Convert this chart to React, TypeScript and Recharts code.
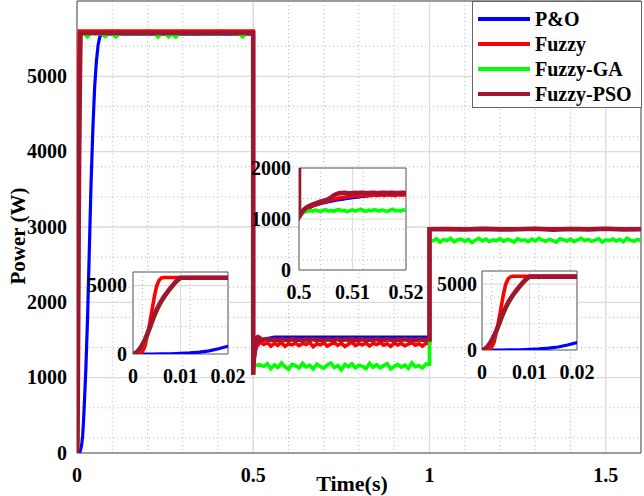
import React from 'react';
import { LineChart, Line, XAxis, YAxis, CartesianGrid, ReferenceArea, Legend, Label } from 'recharts';

const FONT = '"Liberation Serif", "Times New Roman", Times, serif';

// ---- names / colours ----
const seriesNames = ['P&O', 'Fuzzy', 'Fuzzy-GA', 'Fuzzy-PSO'];
const seriesColors = ['#0000FF', '#FF0000', '#00FF00', '#A2142F'];
const seriesWidths = [3.2, 3.6, 3.6, 4.6];

// ---- main axes ----
const xTicks = [0, 0.5, 1, 1.5];
const yTicks = [0, 1000, 2000, 3000, 4000, 5000];
const xMinorTicks = [0, 0.1, 0.2, 0.3, 0.4, 0.5, 0.6, 0.7, 0.8, 0.9, 1, 1.1, 1.2, 1.3, 1.4, 1.5, 1.6];
const yMinorTicks = [0, 200, 400, 600, 800, 1000, 1200, 1400, 1600, 1800, 2000, 2200, 2400, 2600, 2800, 3000,
  3200, 3400, 3600, 3800, 4000, 4200, 4400, 4600, 4800, 5000, 5200, 5400, 5600, 5800, 6000];

// ---- start-up transient (0 .. 0.02 s) ----
const tStart = [0, 0.0005, 0.001, 0.0015, 0.002, 0.0025, 0.003, 0.0035, 0.004, 0.0045, 0.005, 0.0055, 0.006, 0.0065,
  0.007, 0.0075, 0.008, 0.0085, 0.009, 0.0095, 0.01, 0.011, 0.012, 0.014, 0.016, 0.018, 0.02];
const redStart = [0, 0, 0, 50, 200, 550, 1300, 2200, 3200, 4200, 5000, 5400, 5560, 5600, 5600, 5600, 5600, 5600, 5600, 5600, 5600,
  5600, 5600, 5600, 5600, 5600, 5600];
const gaStart = [0, 40, 160, 360, 620, 950, 1340, 1780, 2260, 2710, 3120, 3480, 3800, 4090, 4340, 4580, 4800, 5010, 5220, 5400, 5520,
  5560, 5570, 5570, 5570, 5570, 5570];
const psoStart = [0, 60, 200, 420, 700, 1050, 1450, 1900, 2400, 2850, 3250, 3600, 3900, 4180, 4420, 4650, 4870, 5080, 5280, 5450, 5575,
  5575, 5575, 5575, 5575, 5575, 5575];
const tPoStart = [0, 0.002, 0.004, 0.006, 0.008, 0.01, 0.012, 0.014, 0.016, 0.018, 0.02, 0.025, 0.03, 0.035, 0.04, 0.045, 0.05,
  0.055, 0.06, 0.065, 0.07];
const poStart = [0, 0, 0, 5, 15, 40, 80, 140, 230, 380, 570, 1100, 1800, 2700, 3600, 4300, 4850, 5200, 5420, 5530, 5560];

// ---- first period noise (Fuzzy-GA) ----
const tP1 = [0.03, 0.04, 0.05, 0.06, 0.07, 0.08, 0.09, 0.1, 0.11,
  0.12, 0.13, 0.14, 0.15, 0.16, 0.17, 0.18, 0.19, 0.2, 0.21,
  0.22, 0.23, 0.24, 0.25, 0.26, 0.27, 0.28, 0.29, 0.3, 0.31,
  0.32, 0.33, 0.34, 0.35, 0.36, 0.37, 0.38, 0.39, 0.4, 0.41,
  0.42, 0.43, 0.44, 0.45, 0.46, 0.47, 0.48, 0.49];
const gaP1 = [5525, 5572, 5566, 5570, 5564, 5528, 5571, 5567, 5524,
  5570, 5565, 5573, 5568, 5564, 5571, 5567, 5570, 5565, 5569,
  5572, 5522, 5568, 5571, 5526, 5566, 5523, 5570, 5567, 5571,
  5565, 5569, 5572, 5566, 5570, 5564, 5571, 5567, 5570, 5565,
  5569, 5572, 5566, 5570, 5564, 5525, 5568, 5571];

// ---- step at 0.5 s ----
const tEdge1 = [0.5];
const poEdge1 = [5560];
const redEdge1 = [5600];
const gaEdge1 = [5570];
const psoEdge1 = [5575];

const tDip = [0.5, 0.5005, 0.501, 0.5015, 0.502, 0.5025, 0.503, 0.5035, 0.504, 0.5045,
  0.505, 0.5055, 0.506, 0.5065, 0.507, 0.5075, 0.508, 0.5085, 0.509, 0.5095,
  0.51, 0.5105, 0.511, 0.5115, 0.512, 0.5125, 0.513, 0.5135, 0.514, 0.5145,
  0.515, 0.5155, 0.516, 0.5165, 0.517, 0.5175, 0.518, 0.5185, 0.519, 0.5195,
  0.52];
const psoDip = [1040, 1130, 1190, 1230, 1260, 1280, 1300, 1320, 1340, 1355,
  1370, 1390, 1420, 1460, 1490, 1505, 1510, 1512, 1508, 1506,
  1510, 1514, 1509, 1512, 1515, 1510, 1508, 1513, 1516, 1511,
  1509, 1514, 1512, 1508, 1513, 1515, 1511, 1509, 1512, 1514,
  1510];
const redDip = [1040, 1100, 1150, 1190, 1225, 1250, 1275, 1295, 1315, 1330,
  1345, 1360, 1375, 1388, 1398, 1410, 1420, 1428, 1436, 1444,
  1450, 1458, 1447, 1462, 1468, 1455, 1470, 1462, 1476, 1458,
  1468, 1474, 1460, 1476, 1466, 1471, 1458, 1474, 1466, 1478,
  1468];
const poDip = [1040, 1120, 1170, 1205, 1230, 1250, 1268, 1285, 1300, 1313,
  1325, 1337, 1348, 1358, 1368, 1377, 1386, 1394, 1402, 1410,
  1417, 1424, 1430, 1436, 1442, 1447, 1452, 1457, 1461, 1465,
  1469, 1473, 1476, 1479, 1482, 1485, 1488, 1490, 1492, 1494,
  1496];
const gaDip = [1040, 1100, 1135, 1150, 1165, 1155, 1175, 1160, 1145, 1170,
  1180, 1155, 1165, 1150, 1175, 1185, 1160, 1170, 1145, 1165,
  1180, 1155, 1170, 1190, 1165, 1150, 1175, 1160, 1185, 1170,
  1155, 1180, 1165, 1145, 1175, 1190, 1160, 1170, 1155, 1180,
  1165];

// ---- second period (0.53 .. 0.99 s) ----
const tP2 = [0.53, 0.54, 0.55, 0.56, 0.57, 0.58, 0.59, 0.6, 0.61, 0.62,
  0.63, 0.64, 0.65, 0.66, 0.67, 0.68, 0.69, 0.7, 0.71, 0.72,
  0.73, 0.74, 0.75, 0.76, 0.77, 0.78, 0.79, 0.8, 0.81, 0.82,
  0.83, 0.84, 0.85, 0.86, 0.87, 0.88, 0.89, 0.9, 0.91, 0.92,
  0.93, 0.94, 0.95, 0.96, 0.97, 0.98, 0.99];
const gaP2 = [1150, 1185, 1120, 1170, 1135, 1195, 1145, 1110, 1175, 1160,
  1130, 1190, 1140, 1165, 1115, 1180, 1150, 1125, 1170, 1195,
  1135, 1160, 1105, 1175, 1145, 1185, 1130, 1165, 1150, 1120,
  1190, 1140, 1170, 1130, 1160, 1185, 1115, 1150, 1175, 1140,
  1165, 1125, 1195, 1145, 1160, 1130, 1180];
const redP2 = [1440, 1465, 1420, 1455, 1430, 1470, 1415, 1450, 1435, 1460,
  1425, 1455, 1440, 1470, 1410, 1450, 1435, 1465, 1420, 1445,
  1460, 1430, 1455, 1415, 1445, 1470, 1425, 1450, 1435, 1460,
  1420, 1455, 1440, 1465, 1430, 1450, 1415, 1460, 1435, 1455,
  1425, 1445, 1465, 1430, 1450, 1420, 1455];
const psoP2 = [1505, 1512, 1500, 1508, 1496, 1510, 1503, 1498, 1511, 1502,
  1507, 1495, 1509, 1501, 1513, 1499, 1506, 1497, 1510, 1504,
  1500, 1512, 1496, 1508, 1503, 1511, 1498, 1505, 1509, 1501,
  1506, 1497, 1512, 1502, 1499, 1510, 1504, 1496, 1508, 1503,
  1511, 1500, 1506, 1498, 1509, 1502, 1507];
const tPoP2 = [0.53, 0.54, 0.55, 0.56, 0.99];
const poP2 = [1508, 1520, 1530, 1540, 1540];

// ---- step at 1.0 s ----
const tEdge2 = [1, 1];
const poEdge2 = [1540, 2975];
const redEdge2 = [1455, 2970];
const gaEdge2 = [1180, 2825];
const psoEdge2 = [1507, 2970];

// ---- third period (1.01 .. 1.6 s) ----
const tP3 = [1.01, 1.02, 1.03, 1.04, 1.05, 1.06, 1.07, 1.08, 1.09, 1.1,
  1.11, 1.12, 1.13, 1.14, 1.15, 1.16, 1.17, 1.18, 1.19, 1.2,
  1.21, 1.22, 1.23, 1.24, 1.25, 1.26, 1.27, 1.28, 1.29, 1.3,
  1.31, 1.32, 1.33, 1.34, 1.35, 1.36, 1.37, 1.38, 1.39, 1.4,
  1.41, 1.42, 1.43, 1.44, 1.45, 1.46, 1.47, 1.48, 1.49, 1.5,
  1.51, 1.52, 1.53, 1.54, 1.55, 1.56, 1.57, 1.58, 1.59, 1.6];
const gaP3 = [2815, 2845, 2800, 2835, 2820, 2850, 2805, 2830, 2840, 2810,
  2835, 2795, 2825, 2850, 2815, 2840, 2805, 2830, 2820, 2845,
  2810, 2835, 2825, 2800, 2845, 2820, 2830, 2805, 2840, 2815,
  2850, 2825, 2810, 2835, 2820, 2800, 2845, 2830, 2815, 2840,
  2805, 2830, 2850, 2820, 2835, 2810, 2825, 2845, 2800, 2830,
  2820, 2840, 2815, 2835, 2805, 2850, 2825, 2810, 2835, 2820];
const tP3c = [1.05, 1.1, 1.15, 1.2, 1.25, 1.3, 1.35, 1.4, 1.45, 1.5, 1.55, 1.6];
const psoP3 = [2972, 2966, 2975, 2968, 2970, 2977, 2965, 2973, 2969, 2976, 2967, 2971];
const tEnd = [1.6];
const redEnd = [2970];
const poEnd = [2975];

// ---- inset axes ----
const insetStartXTicks = [0, 0.01, 0.02];
const insetStartXMinor = [0, 0.002, 0.004, 0.006, 0.008, 0.01, 0.012, 0.014, 0.016, 0.018, 0.02];
const insetStartYTicks = [0, 5000];
const insetStartYMinor = [0, 1000, 2000, 3000, 4000, 5000, 6000];
const insetDipXTicks = [0.5, 0.51, 0.52];
const insetDipXMinor = [0.5, 0.502, 0.504, 0.506, 0.508, 0.51, 0.512, 0.514, 0.516, 0.518, 0.52];
const insetDipYTicks = [0, 1000, 2000];
const insetDipYMinor = [0, 200, 400, 600, 800, 1000, 1200, 1400, 1600, 1800, 2000];

type Pt = { t: number; p: number };
const pts = (t: number[], v: number[]): Pt[] => t.map((x, i) => ({ t: x, p: v[i] }));

const mainData: Pt[][] = [
  [...pts(tPoStart, poStart), ...pts(tEdge1, poEdge1), ...pts(tDip, poDip), ...pts(tPoP2, poP2), ...pts(tEdge2, poEdge2), ...pts(tEnd, poEnd)],
  [...pts(tStart, redStart), ...pts(tEdge1, redEdge1), ...pts(tDip, redDip), ...pts(tP2, redP2), ...pts(tEdge2, redEdge2), ...pts(tEnd, redEnd)],
  [...pts(tStart, gaStart), ...pts(tP1, gaP1), ...pts(tEdge1, gaEdge1), ...pts(tDip, gaDip), ...pts(tP2, gaP2), ...pts(tEdge2, gaEdge2), ...pts(tP3, gaP3)],
  [...pts(tStart, psoStart), ...pts(tEdge1, psoEdge1), ...pts(tDip, psoDip), ...pts(tP2, psoP2), ...pts(tEdge2, psoEdge2), ...pts(tP3c, psoP3)],
];
const startData: Pt[][] = [
  pts(tPoStart, poStart), pts(tStart, redStart), pts(tStart, gaStart), pts(tStart, psoStart),
];
const dipData: Pt[][] = [
  [...pts(tEdge1, poEdge1), ...pts(tDip, poDip)],
  [...pts(tEdge1, redEdge1), ...pts(tDip, redDip)],
  [...pts(tEdge1, gaEdge1), ...pts(tDip, gaDip)],
  [...pts(tEdge1, psoEdge1), ...pts(tDip, psoDip)],
];

const XTick = (props: any) => {
  const { x, y, payload } = props;
  return (
    <text x={x} y={y} dy="0.71em" textAnchor="middle" fontFamily={FONT} fontWeight="bold" fontSize={20} fill="#000">
      {String(payload.value)}
    </text>
  );
};
const YTick = (props: any) => {
  const { x, y, payload } = props;
  return (
    <text x={x} y={y} dy="0.34em" textAnchor="end" fontFamily={FONT} fontWeight="bold" fontSize={20} fill="#000">
      {String(payload.value)}
    </text>
  );
};

const PowerLabel = (props: any) => {
  const vb = props.viewBox;
  const cx = vb.x + 18;
  const cy = vb.y + vb.height / 2 + 9;
  return (
    <text x={cx} y={cy} transform={`rotate(-90 ${cx} ${cy})`} textAnchor="middle" dominantBaseline="central"
      fontFamily={FONT} fontWeight="bold" fontSize={21} fill="#000">Power (W)</text>
  );
};
const TimeLabel = (props: any) => {
  const vb = props.viewBox;
  return (
    <text x={vb.x + vb.width / 2 - 7} y={vb.y + 38} textAnchor="middle" fontFamily={FONT} fontWeight="bold" fontSize={22} fill="#000">
      Time(s)
    </text>
  );
};

const renderLegend = (props: any) => {
  const payload = [...(props.payload || [])].sort(
    (a: any, b: any) => seriesNames.indexOf(a.value) - seriesNames.indexOf(b.value));
  return (
    <div style={{ boxSizing: 'border-box', width: 170, height: 107, border: '1px solid #666', background: '#fff',
      padding: '4px 0 0 5px', fontFamily: FONT, fontWeight: 'bold', fontSize: 20, color: '#000' }}>
      {payload.map((e: any) => (
        <div key={e.value} style={{ display: 'flex', alignItems: 'center', height: 25 }}>
          <span style={{ display: 'inline-block', width: 52, height: 4, background: e.color, marginRight: 5 }} />
          <span style={{ lineHeight: '20px' }}>{e.value}</span>
        </div>
      ))}
    </div>
  );
};

type InsetProps = {
  left: number; top: number; width: number; height: number; yAxisWidth: number; yMargin: number;
  xDomain: [number, number]; xTicks: number[]; xMinor: number[];
  yDomain: [number, number]; yTicks: number[]; yMinor: number[];
  data: Pt[][];
};

const Inset = (p: InsetProps) => (
  <div style={{ position: 'absolute', left: p.left, top: p.top }}>
    <LineChart width={p.width} height={p.height} margin={{ top: 12, right: 24, left: 0, bottom: 0 }}>
      <XAxis xAxisId="m" type="number" dataKey="t" domain={p.xDomain} ticks={p.xMinor} hide allowDataOverflow />
      <YAxis yAxisId="m" type="number" domain={p.yDomain} ticks={p.yMinor} hide allowDataOverflow />
      <XAxis type="number" dataKey="t" domain={p.xDomain} ticks={p.xTicks} allowDataOverflow height={36}
        tickLine={false} axisLine={false} tickSize={0} tickMargin={15} interval={0} tick={(tp: any) => <XTick {...tp} />} />
      <YAxis type="number" dataKey="p" domain={p.yDomain} ticks={p.yTicks} allowDataOverflow width={p.yAxisWidth}
        tickLine={false} axisLine={false} tickSize={0} tickMargin={p.yMargin} interval={0} tick={(tp: any) => <YTick {...tp} />} />
      <CartesianGrid xAxisId="m" yAxisId="m" fill="#fff" stroke="#b8b8b8" strokeDasharray="1 3" />
      <CartesianGrid stroke="#dcdcdc" strokeWidth={1.2} />
      {p.data.map((d, i) => (
        <Line key={seriesNames[i]} data={d} dataKey="p" name={seriesNames[i]} type="linear" stroke={seriesColors[i]}
          strokeWidth={seriesWidths[i]} dot={false} activeDot={false} isAnimationActive={false} />
      ))}
      <ReferenceArea x1={p.xDomain[0]} x2={p.xDomain[1]} y1={p.yDomain[0]} y2={p.yDomain[1]} fill="none" fillOpacity={0}
        stroke="#666" strokeWidth={1} ifOverflow="visible" />
    </LineChart>
  </div>
);

export default function App() {
  const tickStroke = { stroke: '#555', strokeWidth: 1 };
  return (
    <div style={{ position: 'absolute', left: 0, top: 0, width: 644, height: 496, background: '#fff', overflow: 'hidden' }}>
      <LineChart width={644} height={496} margin={{ top: 1, right: 3, left: 0, bottom: 0 }}>
        <XAxis xAxisId="m" type="number" dataKey="t" domain={[0, 1.6]} ticks={xMinorTicks} hide allowDataOverflow />
        <YAxis yAxisId="m" type="number" domain={[0, 6000]} ticks={yMinorTicks} hide allowDataOverflow />
        <XAxis type="number" dataKey="t" domain={[0, 1.6]} ticks={xTicks} allowDataOverflow height={43}
          tickLine={false} axisLine={false} tickSize={0} tickMargin={15} interval={0} tick={(tp: any) => <XTick {...tp} />}>
          <Label content={TimeLabel} />
        </XAxis>
        <YAxis type="number" dataKey="p" domain={[0, 6000]} ticks={yTicks} allowDataOverflow width={77}
          tickLine={false} axisLine={false} tickSize={0} tickMargin={10} interval={0} tick={(tp: any) => <YTick {...tp} />}>
          <Label content={PowerLabel} />
        </YAxis>
        {/* inward tick marks, MATLAB style */}
        <XAxis xAxisId="bt" type="number" orientation="bottom" mirror domain={[0, 1.6]} ticks={xTicks} allowDataOverflow
          axisLine={false} tick={false} tickSize={5} tickLine={tickStroke} />
        <XAxis xAxisId="tp" type="number" orientation="top" mirror domain={[0, 1.6]} ticks={xTicks} allowDataOverflow
          axisLine={false} tick={false} tickSize={5} tickLine={tickStroke} />
        <YAxis yAxisId="lt" type="number" orientation="left" mirror domain={[0, 6000]} ticks={yTicks} allowDataOverflow
          axisLine={false} tick={false} tickSize={5} tickLine={tickStroke} />
        <YAxis yAxisId="rt" type="number" orientation="right" mirror domain={[0, 6000]} ticks={yTicks} allowDataOverflow
          axisLine={false} tick={false} tickSize={5} tickLine={tickStroke} width={0} />
        <CartesianGrid xAxisId="m" yAxisId="m" fill="#fff" stroke="#b8b8b8" strokeDasharray="1 3" />
        <CartesianGrid stroke="#dcdcdc" strokeWidth={1.3} />
        {mainData.map((d, i) => (
          <Line key={seriesNames[i]} data={d} dataKey="p" name={seriesNames[i]} type="linear" stroke={seriesColors[i]}
            strokeWidth={seriesWidths[i]} dot={false} activeDot={false} isAnimationActive={false} legendType="line" />
        ))}
        <ReferenceArea x1={0} x2={1.6} y1={0} y2={6000} fill="none" fillOpacity={0} stroke="#555" strokeWidth={1} ifOverflow="visible" />
        <Legend layout="horizontal" verticalAlign="middle" align="center" content={renderLegend}
          wrapperStyle={{ left: 472, top: 1, width: 170, height: 107 }} />
      </LineChart>
      <Inset left={70} top={260} width={182} height={130} yAxisWidth={63} yMargin={6}
        xDomain={[0, 0.02]} xTicks={insetStartXTicks} xMinor={insetStartXMinor}
        yDomain={[0, 6000]} yTicks={insetStartYTicks} yMinor={insetStartYMinor} data={startData} />
      <Inset left={229} top={156} width={201} height={150} yAxisWidth={70} yMargin={8}
        xDomain={[0.5, 0.52]} xTicks={insetDipXTicks} xMinor={insetDipXMinor}
        yDomain={[0, 2000]} yTicks={insetDipYTicks} yMinor={insetDipYMinor} data={dipData} />
      <Inset left={419} top={259} width={182} height={127} yAxisWidth={63} yMargin={5}
        xDomain={[0, 0.02]} xTicks={insetStartXTicks} xMinor={insetStartXMinor}
        yDomain={[0, 6000]} yTicks={insetStartYTicks} yMinor={insetStartYMinor} data={startData} />
    </div>
  );
}
